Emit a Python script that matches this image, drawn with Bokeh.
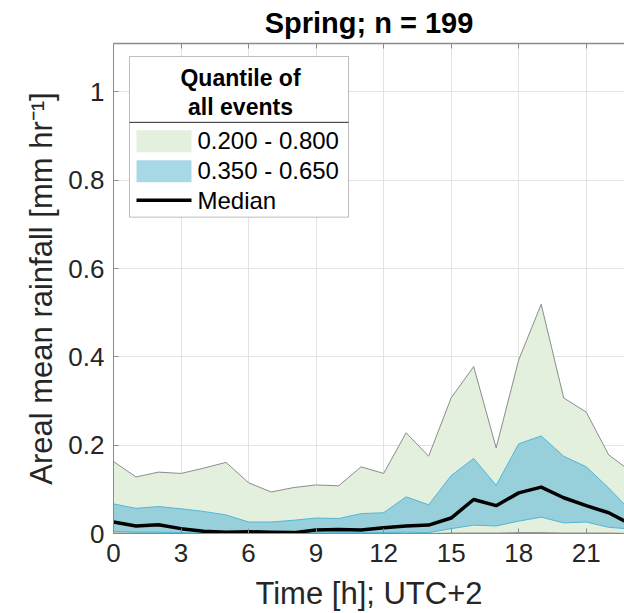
from bokeh.plotting import figure
from bokeh.models import Range1d, FixedTicker, LinearAxis, BoxAnnotation, Label, Arrow
from bokeh.embed import file_html
from bokeh.resources import INLINE

# ---------------- data ----------------
hours = [0, 1, 2, 3, 4, 5, 6, 7, 8, 9, 10, 11, 12, 13, 14, 15, 16, 17, 18, 19, 20, 21, 22, 23]
q20 = [0.001, 0.001, 0.001, 0.000, 0.000, 0.000, 0.000, 0.000, 0.000, 0.000, 0.000, 0.000,
       0.000, 0.000, 0.000, 0.001, 0.001, 0.001, 0.002, 0.002, 0.001, 0.001, 0.001, 0.000]
q35 = [0.005, 0.003, 0.003, 0.002, 0.001, 0.001, 0.001, 0.001, 0.001, 0.001, 0.002, 0.002,
       0.002, 0.003, 0.002, 0.011, 0.019, 0.017, 0.028, 0.037, 0.024, 0.026, 0.014, 0.010]
q50 = [0.026, 0.017, 0.020, 0.011, 0.005, 0.003, 0.004, 0.003, 0.002, 0.008, 0.009, 0.008,
       0.013, 0.017, 0.019, 0.035, 0.077, 0.063, 0.092, 0.105, 0.081, 0.063, 0.047, 0.020]
q65 = [0.067, 0.057, 0.061, 0.056, 0.050, 0.042, 0.026, 0.026, 0.030, 0.035, 0.034, 0.045,
       0.047, 0.083, 0.065, 0.131, 0.170, 0.109, 0.203, 0.221, 0.175, 0.151, 0.103, 0.050]
q80 = [0.163, 0.128, 0.139, 0.136, 0.148, 0.161, 0.115, 0.094, 0.104, 0.110, 0.108, 0.151,
       0.136, 0.228, 0.175, 0.307, 0.378, 0.194, 0.393, 0.519, 0.307, 0.275, 0.178, 0.140]

x_ticks = [0, 3, 6, 9, 12, 15, 18, 21]
y_ticks = [0, 0.2, 0.4, 0.6, 0.8, 1.0]
y_tick_labels = ["0", "0.2", "0.4", "0.6", "0.8", "1"]

title_text = "Spring; n = 199"
x_label = "Time [h]; UTC+2"
y_label = "Areal mean rainfall [mm hr\u207b\u00b9]"
legend_title = ["Quantile of", "all events"]
legend_labels = ["0.200 - 0.800", "0.350 - 0.650", "Median"]

# ---------------- style ----------------
FONT = "Liberation Sans"
GREEN = "#e2f0dd"
BLUE = "#97d0da"
BLUE_SW = "#a7d8e5"
BLUE_EDGE = "#52b6d6"
GRAY_EDGE = "#8c8c8c"
AX = "#8a8a8a"

PX_PER_H = 22.51
PX_PER_V = 442.5
W, H = 624, 613
X0, Y0 = 113, 534          # pixel of data origin
TOP = 43                   # pixel of frame top
FRAME_W = W - X0
FRAME_H = Y0 - TOP


def dx(px):
    return (px - X0) / PX_PER_H


def dy(py):
    return (Y0 - py) / PX_PER_V


p = figure(width=W, height=H,
           x_range=Range1d(0, FRAME_W / PX_PER_H),
           y_range=Range1d(0, FRAME_H / PX_PER_V),
           output_backend="svg", toolbar_location=None,
           min_border_left=X0, min_border_right=0,
           min_border_top=TOP, min_border_bottom=H - Y0)
p.outline_line_color = None
p.background_fill_color = "white"
p.border_fill_color = "white"

# title
p.title.text = title_text
p.title.align = "center"
p.title.text_font = FONT
p.title.text_font_size = "29px"
p.title.text_font_style = "bold"
p.title.text_color = "#000000"
p.title.standoff = 9

# axes
xa = p.xaxis[0]
xa.ticker = FixedTicker(ticks=x_ticks)
xa.axis_label = x_label
ya = p.yaxis[0]
ya.ticker = FixedTicker(ticks=y_ticks)
ya.major_label_overrides = {t: l for t, l in zip(y_ticks, y_tick_labels)}
ya.axis_label = y_label

for ax in (xa, ya):
    ax.axis_line_color = AX
    ax.axis_line_width = 1
    ax.major_tick_in = 5
    ax.major_tick_out = 0
    ax.minor_tick_line_color = None
    ax.major_tick_line_color = AX
    ax.major_label_text_font = FONT
    ax.major_label_text_font_size = "26px"
    ax.major_label_text_color = "#262626"
    ax.axis_label_text_font = FONT
    ax.axis_label_text_font_size = "31px"
    ax.axis_label_text_font_style = "normal"
    ax.axis_label_text_color = "#262626"

xa.major_label_standoff = 10
xa.axis_label_standoff = 11
ya.major_label_standoff = 9
ya.axis_label_standoff = 6

top = LinearAxis(ticker=FixedTicker(ticks=x_ticks), axis_line_color=AX, axis_line_width=1.5,
                 major_tick_in=5, major_tick_out=0, major_tick_line_color=AX,
                 minor_tick_line_color=None,
                 major_label_overrides={t: "" for t in x_ticks},
                 major_label_standoff=0)
p.add_layout(top, "above")

p.xgrid.ticker = FixedTicker(ticks=x_ticks)
p.ygrid.ticker = FixedTicker(ticks=y_ticks)
p.grid.grid_line_color = "#e3e3e3"
p.grid.grid_line_width = 1

# bands
p.varea(x=hours, y1=q20, y2=q80, fill_color=GREEN, fill_alpha=1)
p.varea(x=hours, y1=q35, y2=q65, fill_color=BLUE, fill_alpha=1)
p.line(hours, q80, line_color=GRAY_EDGE, line_width=1)
p.line(hours, q20, line_color=GRAY_EDGE, line_width=1)
p.line(hours, q65, line_color=BLUE_EDGE, line_width=1)
p.line(hours, q35, line_color=BLUE_EDGE, line_width=1)
p.line(hours, q50, line_color="black", line_width=3.5)

# legend (drawn as annotations)
p.add_layout(BoxAnnotation(left=dx(129), right=dx(348), top=dy(56), bottom=dy(217),
                           fill_color="white", fill_alpha=1, line_color="#262626",
                           line_width=1, level="annotation"))
p.add_layout(Arrow(end=None, x_start=dx(129), y_start=dy(122), x_end=dx(348), y_end=dy(122),
                   line_color="#262626", line_width=1))
p.add_layout(BoxAnnotation(left=dx(136), right=dx(191), top=dy(130), bottom=dy(152),
                           fill_color=GREEN, fill_alpha=1, line_color=None))
p.add_layout(BoxAnnotation(left=dx(136), right=dx(191), top=dy(160), bottom=dy(182),
                           fill_color=BLUE_SW, fill_alpha=1, line_color=None))
p.add_layout(Arrow(end=None, x_start=dx(136), y_start=dy(200), x_end=dx(191), y_end=dy(200),
                   line_color="black", line_width=3.5))
for txt, py in zip(legend_title, [78, 107]):
    p.add_layout(Label(x=dx(240), y=dy(py), text=txt, text_align="center",
                       text_baseline="middle", text_font=FONT, text_font_size="23px",
                       text_font_style="bold", text_color="#000000"))
for txt, py in zip(legend_labels, [140, 170, 200]):
    p.add_layout(Label(x=dx(197), y=dy(py), text=txt, text_align="left",
                       text_baseline="middle", text_font=FONT, text_font_size="24px",
                       text_color="#000000"))

open("out.html", "w").write(file_html(p, INLINE))
